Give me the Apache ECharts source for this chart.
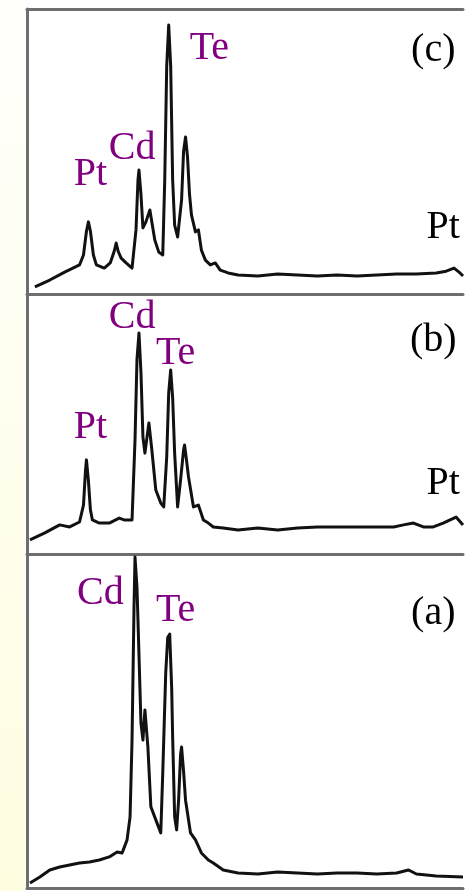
<!DOCTYPE html>
<html>
<head>
<meta charset="utf-8">
<script src="https://cdn.jsdelivr.net/npm/echarts@6/dist/echarts.min.js"></script>
<style>
html,body{margin:0;padding:0;background:#fff;}
#chart{width:467px;height:891px;}
</style>
</head>
<body>
<div id="chart"></div>
<script>
// Spectrum (c): [channel, intensity %]
const spectrumC = [
  [8,2.5],[23,4.9],[38,7.7],[53,10.2],[57,13.7],[60,22],[62,25.3],[64,22],[67,13.7],[70,10.2],[78,9.1],[84,10.9],
  [88,15],[90,17.9],[92,15],[95,12.6],[100,10.9],[106,9.1],[110,22.5],[112,40],[113,43.5],[115,35],[117,23.2],[120,25.3],[124,29.5],
  [129,18.9],[133,14.7],[137,13.7],[139,40],[141,80],[143,94.4],[145,80],[147,40],[149,24.2],[152,20],[156,33],
  [158,50],[160,55.1],[162,48],[164,35],[166,27.7],[170,21.8],[173,22.5],[176,15.4],[180,11.9],[185,10.2],[190,10.9],
  [195,8.4],[203,7.4],[213,6.7],[233,6.3],[253,7.0],[273,6.7],[293,6.3],[313,6.7],[333,6.3],[353,6.7],
  [373,7.0],[393,7.0],[413,7.4],[423,8.0],[431,9.1],[436,7.7],[440,6.3]
];
// Spectrum (b)
const spectrumB = [
  [3,5.4],[18,8.1],[33,11.2],[43,10.4],[53,12.3],[57,18.8],[59,32],[60,36.2],[62,28],[64,17],[66,13.1],[73,11.9],
  [83,11.9],[93,13.8],[98,13.1],[106,13.1],[109,43.8],[111,75],[113,85],[115,70],[117,45],[119,38.8],[123,50.4],
  [126,40],[130,24.6],[135,19.6],[138,18.1],[141,37.3],[143,62],[145,70.8],[147,60],[149,38.8],[152,18.1],[155,28.5],
  [158,40],[159,41.9],[161,36],[163,29.6],[168,18.1],[173,18.8],[178,13.1],[183,11.9],[188,10.4],[198,10],[213,9.2],
  [233,10],[253,9.2],[273,10],[293,10.4],[313,10.4],[333,10.4],[353,10.4],[370,10.4],[380,11.2],
  [390,11.9],[400,10.4],[410,10.4],[420,11.9],[433,14.2],[440,11.2]
];
// Spectrum (a)
const spectrumA = [
  [3,1.5],[13,3.3],[23,5.4],[33,6.3],[43,6.9],[53,7.5],[63,7.8],[73,8.4],[83,9.3],[91,10.8],[96,10.5],
  [101,14.4],[104,21.3],[106,44.3],[108,84.1],[109,99.1],[111,90],[112,80],[115,49.4],[117,44.3],
  [119,53.3],[122,42.2],[125,24.3],[130,20.4],[135,16.5],[137,34.4],[140,64.4],[142,75],[144,76],[146,60],[147,45],
  [149,21.3],[151,17.4],[153,26.3],[155,40],[156,42.2],[158,35],[160,26.3],[165,16.5],[170,14.4],[176,10.5],[183,8.4],
  [188,7.5],[198,5.4],[213,4.5],[233,4.2],[253,4.8],[273,4.5],[293,4.2],[313,4.5],[333,4.5],[353,4.2],
  [373,4.5],[385,5.4],[393,4.2],[413,3.6],[440,3.3]
];
// Annotations: [text, channel, intensity, colourKey]
const labelsC = [["Te",184,86.3,"el"],["Cd",106,51.2,"el"],["Pt",64,41.8,"el"],["(c)",410,85.6,"k"],["Pt",420,23.2,"k"]];
const labelsB = [["Cd",106,90.8,"el"],["Te",150,77.3,"el"],["Pt",64,48.5,"el"],["(b)",410,82.3,"k"],["Pt",420,27.3,"k"]];
const labelsA = [["Cd",74,88.3,"el"],["Te",150,83.2,"el"],["(a)",410,82.3,"k"]];

const panels = [
  {data: spectrumC, labels: labelsC, top: 9, height: 285},
  {data: spectrumB, labels: labelsB, top: 294, height: 260},
  {data: spectrumA, labels: labelsA, top: 554, height: 334}
];
const colours = {el: '#800080', k: '#000000'};
const frame = '#6e6e6e';

const chart = echarts.init(document.getElementById('chart'), null, {renderer: 'canvas'});
const grid = [], xAxis = [], yAxis = [], series = [];
panels.forEach((p, i) => {
  grid.push({left: 27, right: 4, top: p.top, height: p.height, containLabel: false});
  xAxis.push({type: 'value', gridIndex: i, min: 0, max: 440, position: 'bottom',
    axisLine: {show: true, onZero: false, lineStyle: {color: frame, width: 3}},
    axisTick: {show: false}, axisLabel: {show: false}, splitLine: {show: false}});
  yAxis.push({type: 'value', gridIndex: i, min: 0, max: 100,
    axisLine: {show: true, lineStyle: {color: frame, width: 3}},
    axisTick: {show: false}, axisLabel: {show: false}, splitLine: {show: false}});
  series.push({
    type: 'line', xAxisIndex: i, yAxisIndex: i, data: p.data, showSymbol: false, silent: true,
    lineStyle: {color: '#111', width: 3, join: 'round'}, smooth: false, animation: false,
    markPoint: {
      symbol: 'circle', symbolSize: 0, silent: true, animation: false,
      data: p.labels.map(l => ({coord: [l[1], l[2]], value: l[0],
        label: {show: true, position: 'inside', formatter: l[0], color: colours[l[3]],
          fontFamily: 'Liberation Serif', fontSize: 40}}))
    }
  });
});
// top frame line of panel (c)
xAxis.push({type: 'value', gridIndex: 0, min: 0, max: 440, position: 'top',
  axisLine: {show: true, onZero: false, lineStyle: {color: frame, width: 3}},
  axisTick: {show: false}, axisLabel: {show: false}, splitLine: {show: false}});

chart.setOption({
  animation: false,
  backgroundColor: '#ffffff',
  graphic: [{type: 'rect', left: 0, top: 0, z: -10, shape: {width: 25, height: 891},
    style: {fill: new echarts.graphic.LinearGradient(0, 0, 0, 1, [
      {offset: 0, color: '#fffffb'}, {offset: 0.35, color: '#fffef2'}, {offset: 1, color: '#fffde0'}])}}],
  grid, xAxis, yAxis, series
});
</script>
</body>
</html>
